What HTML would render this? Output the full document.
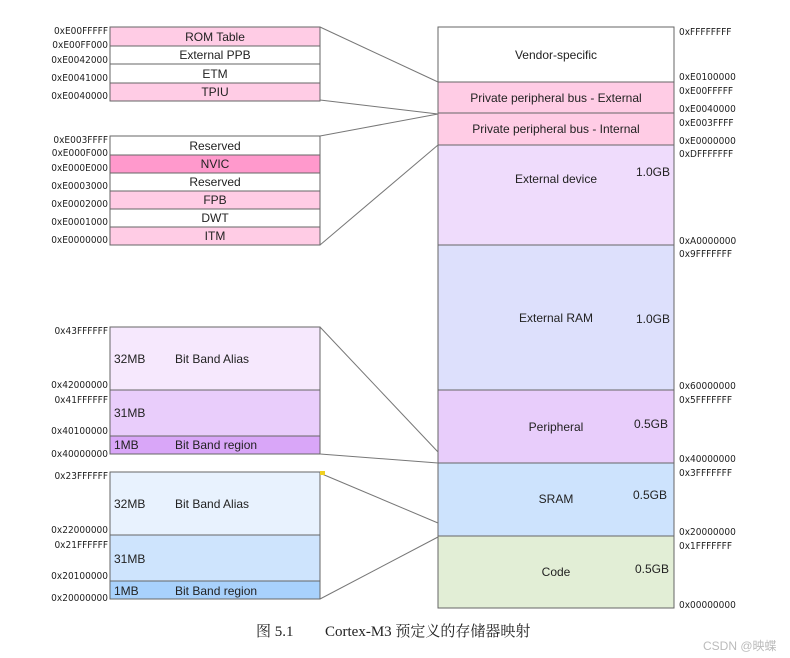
<!DOCTYPE html>
<html><head><meta charset="utf-8"><style>
body{margin:0;background:#fff;}
svg{display:block;font-family:"Liberation Sans",sans-serif;}
.a{font-size:10px;fill:#222;font-family:"DejaVu Sans Condensed","Liberation Sans",sans-serif;}
.t{font-size:12px;fill:#222;}
</style></head><body>
<svg width="790" height="658" viewBox="0 0 790 658" xmlns="http://www.w3.org/2000/svg">
<g stroke="#666" stroke-width="1">
<!-- right column -->
<rect x="438" y="27" width="236" height="55" fill="#fff"/>
<rect x="438" y="82" width="236" height="31" fill="#ffcce5"/>
<rect x="438" y="113" width="236" height="32" fill="#ffcce5"/>
<rect x="438" y="145" width="236" height="100" fill="#efdcfc"/>
<rect x="438" y="245" width="236" height="145" fill="#dde0fc"/>
<rect x="438" y="390" width="236" height="73" fill="#e8cdfb"/>
<rect x="438" y="463" width="236" height="73" fill="#cde3fd"/>
<rect x="438" y="536" width="236" height="72" fill="#e2eed6"/>
<!-- left top -->
<rect x="110" y="27" width="210" height="19" fill="#ffcce5"/>
<rect x="110" y="46" width="210" height="18" fill="#fff"/>
<rect x="110" y="64" width="210" height="19" fill="#fff"/>
<rect x="110" y="83" width="210" height="18" fill="#ffcce5"/>
<rect x="110" y="136" width="210" height="19" fill="#fff"/>
<rect x="110" y="155" width="210" height="18" fill="#ff99cc"/>
<rect x="110" y="173" width="210" height="18" fill="#fff"/>
<rect x="110" y="191" width="210" height="18" fill="#ffcce5"/>
<rect x="110" y="209" width="210" height="18" fill="#fff"/>
<rect x="110" y="227" width="210" height="18" fill="#ffcce5"/>
<!-- bitband 1 -->
<rect x="110" y="327" width="210" height="63" fill="#f6e8fd"/>
<rect x="110" y="390" width="210" height="46" fill="#e9cdfb"/>
<rect x="110" y="436" width="210" height="18" fill="#d9a6f8"/>
<!-- bitband 2 -->
<rect x="110" y="472" width="210" height="63" fill="#e8f2fe"/>
<rect x="110" y="535" width="210" height="46" fill="#cee4fd"/>
<rect x="110" y="581" width="210" height="18" fill="#a8d1fc"/>
<!-- connectors -->
<g stroke="#777" fill="none">
<line x1="320" y1="27" x2="438" y2="82"/>
<line x1="320" y1="100" x2="438" y2="114"/>
<line x1="320" y1="136" x2="438" y2="114"/>
<line x1="320" y1="245" x2="438" y2="145"/>
<line x1="320" y1="327" x2="438" y2="452"/>
<line x1="320" y1="454" x2="438" y2="463"/>
<line x1="322" y1="474" x2="438" y2="523"/>
<line x1="320" y1="599" x2="438" y2="537"/>
</g>
</g>
<rect x="320" y="471" width="5" height="4" fill="#f0d020"/>
<g class="t" text-anchor="middle">
<text x="556" y="59">Vendor-specific</text>
<text x="556" y="102">Private peripheral bus - External</text>
<text x="556" y="133">Private peripheral bus - Internal</text>
<text x="556" y="183">External device</text>
<text x="556" y="322">External RAM</text>
<text x="556" y="431">Peripheral</text>
<text x="556" y="503">SRAM</text>
<text x="556" y="576">Code</text>
<text x="215" y="41">ROM Table</text>
<text x="215" y="59">External PPB</text>
<text x="215" y="78">ETM</text>
<text x="215" y="96">TPIU</text>
<text x="215" y="150">Reserved</text>
<text x="215" y="168">NVIC</text>
<text x="215" y="186">Reserved</text>
<text x="215" y="204">FPB</text>
<text x="215" y="222">DWT</text>
<text x="215" y="240">ITM</text>
</g>
<g class="t" text-anchor="end">
<text x="670" y="176">1.0GB</text>
<text x="670" y="323">1.0GB</text>
<text x="668" y="428">0.5GB</text>
<text x="667" y="499">0.5GB</text>
<text x="669" y="573">0.5GB</text>
</g>
<g class="t">
<text x="114" y="363">32MB</text><text x="175" y="363">Bit Band Alias</text>
<text x="114" y="417">31MB</text>
<text x="114" y="449">1MB</text><text x="175" y="449">Bit Band region</text>
<text x="114" y="508">32MB</text><text x="175" y="508">Bit Band Alias</text>
<text x="114" y="563">31MB</text>
<text x="114" y="595">1MB</text><text x="175" y="595">Bit Band region</text>
</g>
<g class="a" text-anchor="end">
<text x="108" y="34">0xE00FFFFF</text>
<text x="108" y="48">0xE00FF000</text>
<text x="108" y="63">0xE0042000</text>
<text x="108" y="81">0xE0041000</text>
<text x="108" y="99">0xE0040000</text>
<text x="108" y="143">0xE003FFFF</text>
<text x="108" y="156">0xE000F000</text>
<text x="108" y="171">0xE000E000</text>
<text x="108" y="189">0xE0003000</text>
<text x="108" y="207">0xE0002000</text>
<text x="108" y="225">0xE0001000</text>
<text x="108" y="243">0xE0000000</text>
<text x="108" y="334">0x43FFFFFF</text>
<text x="108" y="388">0x42000000</text>
<text x="108" y="403">0x41FFFFFF</text>
<text x="108" y="434">0x40100000</text>
<text x="108" y="457">0x40000000</text>
<text x="108" y="479">0x23FFFFFF</text>
<text x="108" y="533">0x22000000</text>
<text x="108" y="548">0x21FFFFFF</text>
<text x="108" y="579">0x20100000</text>
<text x="108" y="601">0x20000000</text>
</g>
<g class="a">
<text x="679" y="35">0xFFFFFFFF</text>
<text x="679" y="80">0xE0100000</text>
<text x="679" y="94">0xE00FFFFF</text>
<text x="679" y="112">0xE0040000</text>
<text x="679" y="126">0xE003FFFF</text>
<text x="679" y="144">0xE0000000</text>
<text x="679" y="157">0xDFFFFFFF</text>
<text x="679" y="244">0xA0000000</text>
<text x="679" y="257">0x9FFFFFFF</text>
<text x="679" y="389">0x60000000</text>
<text x="679" y="403">0x5FFFFFFF</text>
<text x="679" y="462">0x40000000</text>
<text x="679" y="476">0x3FFFFFFF</text>
<text x="679" y="535">0x20000000</text>
<text x="679" y="549">0x1FFFFFFF</text>
<text x="679" y="608">0x00000000</text>
</g>
<text x="256" y="636" style="font-size:15px;fill:#222;font-family:'Liberation Serif','Noto Serif CJK SC',serif;">图 5.1<tspan x="325">Cortex-M3 预定义的存储器映射</tspan></text>
<text x="703" y="650" style="font-size:12px;fill:#bbb;font-family:'Liberation Sans','Noto Sans CJK SC',sans-serif;">CSDN @映蝶</text>
</svg>
</body></html>
